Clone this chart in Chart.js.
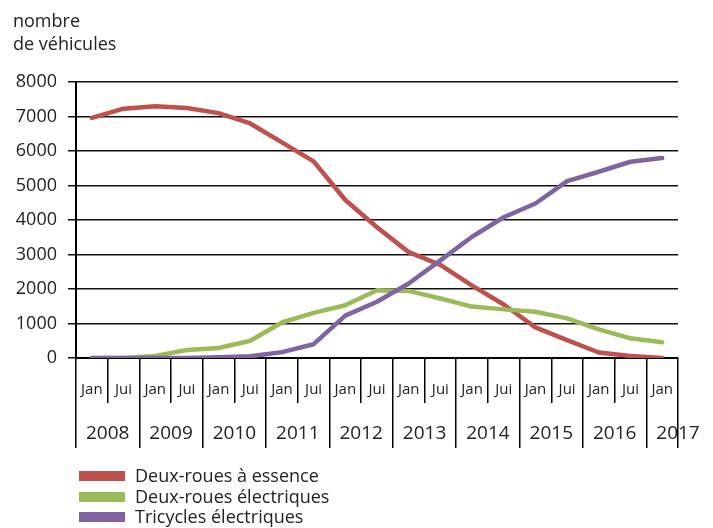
<!DOCTYPE html>
<html>
<head>
<meta charset="utf-8">
<script src="https://cdn.jsdelivr.net/npm/chart.js@4"></script>
<style>
  body { margin: 0; background: #fff; }
  #wrap { position: relative; width: 713px; height: 528px; overflow: hidden; }
  #legend { position: absolute; left: 79px; top: 465px; font-family: "Open Sans", sans-serif; font-size: 18px; color: #222; }
  #legend div { display: flex; align-items: center; height: 20.5px; white-space: nowrap; }
  #legend span.box { display: inline-block; width: 46px; height: 10px; margin-right: 10px; margin-top: 2px; }
</style>
</head>
<body>
<div id="wrap">
  <canvas id="chart" width="713" height="528"></canvas>
  <div id="legend"></div>
</div>
<script>
// half-year points, Jan 2008 .. Jan 2017
const periods = ['Jan', 'Jui', 'Jan', 'Jui', 'Jan', 'Jui', 'Jan', 'Jui', 'Jan', 'Jui',
                 'Jan', 'Jui', 'Jan', 'Jui', 'Jan', 'Jui', 'Jan', 'Jui', 'Jan'];
const years = [2008, 2009, 2010, 2011, 2012, 2013, 2014, 2015, 2016, 2017];
const yTicks = [0, 1000, 2000, 3000, 4000, 5000, 6000, 7000, 8000];

const essence = [6960, 7230, 7300, 7250, 7100, 6800, 6250, 5700, 4580, 3790,
                 3070, 2700, 2100, 1550, 890, 520, 160, 60, 0];
const electriques = [0, 0, 60, 230, 290, 500, 1030, 1310, 1530, 1965,
                     1945, 1725, 1490, 1410, 1340, 1150, 830, 570, 455];
const tricycles = [0, 0, 0, 0, 20, 50, 170, 400, 1230, 1630,
                   2160, 2830, 3515, 4080, 4480, 5130, 5400, 5690, 5800];

const FONT = '"Open Sans", sans-serif';
const INK = '#222';

function line(label, data, color, order) {
    return {
        label: label,
        data: data,
        borderColor: color,
        backgroundColor: color,
        borderWidth: 4.5,
        pointRadius: 0,
        tension: 0,
        borderJoinStyle: 'round',
        borderCapStyle: 'round',
        order: order
    };
}

let ctx = document.getElementById('chart');
let chart = new Chart(ctx, {
    type: 'line',
    data: {
        labels: periods,
        datasets: [
            line('Deux-roues à essence', essence, '#C0504D', 2),
            line('Deux-roues électriques', electriques, '#9BBB59', 1),
            line('Tricycles électriques', tricycles, '#8064A2', 0)
        ]
    },
    options: {
        responsive: false,
        animation: false,
        layout: { padding: { left: 13, right: 35, top: 0, bottom: 80 } },
        plugins: {
            legend: { display: false },
            tooltip: { enabled: false },
            title: {
                display: true,
                text: ['nombre', 'de véhicules'],
                align: 'start',
                color: INK,
                font: { family: FONT, size: 18, weight: 'normal', lineHeight: 1.28 },
                padding: { top: 10, bottom: 26 }
            }
        },
        scales: {
            y: {
                min: 0,
                max: 8000,
                afterBuildTicks: s => { s.ticks = yTicks.map(v => ({ value: v })); },
                afterFit: s => { s.width = 63; },
                ticks: {
                    color: INK, padding: 11, font: { family: FONT, size: 18 },
                    callback: v => String(v)
                },
                grid: { color: '#111', lineWidth: 1.5, tickLength: 8 },
                border: { color: '#000', width: 2 }
            },
            x: {
                type: 'category',
                offset: true,
                weight: 0,
                afterFit: s => { s.height = 45; },
                ticks: {
                    color: INK, padding: -22, autoSkip: false, maxRotation: 0, minRotation: 0,
                    font: { family: FONT, size: 15 }
                },
                grid: { offset: true, drawOnChartArea: false, tickLength: 45, color: '#000', lineWidth: 1.5 },
                border: { color: '#000', width: 2 }
            },
            years: {
                type: 'linear',
                position: 'bottom',
                weight: 1,
                min: -0.5,
                max: periods.length - 0.5,
                afterBuildTicks: s => {
                    let t = [];
                    for (let v = -0.5; v <= periods.length - 0.5; v += 1) t.push({ value: v });
                    s.ticks = t;
                },
                afterFit: s => { s.height = 45; },
                ticks: {
                    color: INK, padding: -26, autoSkip: false, maxRotation: 0, minRotation: 0,
                    font: { family: FONT, size: 19 },
                    callback: v => {
                        let k = (v - 0.5) / 2;
                        return Number.isInteger(k) && years[k] !== undefined ? String(years[k]) : '';
                    }
                },
                grid: {
                    drawOnChartArea: false,
                    tickLength: 45,
                    lineWidth: 1.5,
                    color: c => {
                        let v = c.tick ? c.tick.value : 0;
                        let edge = Number.isInteger((v + 0.5) / 2) || v === periods.length - 0.5;
                        return edge ? '#000' : 'rgba(0,0,0,0)';
                    }
                },
                border: { display: false }
            }
        }
    }
});

// legend as text rows under the chart
let legend = document.getElementById('legend');
chart.data.datasets.forEach(ds => {
    let row = document.createElement('div');
    let box = document.createElement('span');
    box.className = 'box';
    box.style.background = ds.borderColor;
    row.appendChild(box);
    row.appendChild(document.createTextNode(ds.label));
    legend.appendChild(row);
});
</script>
</body>
</html>
